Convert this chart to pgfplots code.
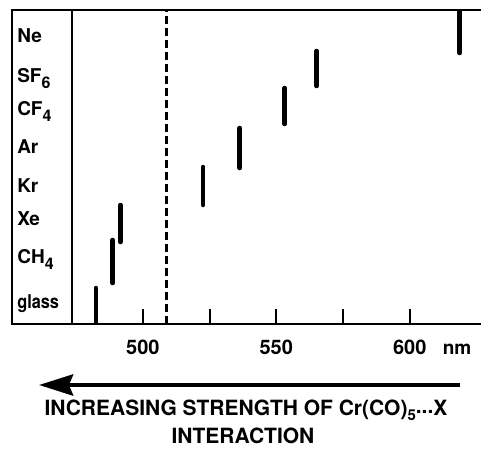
\documentclass[border=0pt]{standalone}
\usepackage{pgfplots}
\pgfplotsset{compat=1.18}
\usepackage{fontspec}
\setmainfont{TeX Gyre Heros}
\usetikzlibrary{arrows.meta}

% lowered, nearly full-size subscripts as in the original lettering
\newcommand{\sub}[1]{\raisebox{-6pt}{\fontsize{16}{16}\selectfont #1}}
\tikzset{
  lbl/.style={anchor=base west, inner sep=0pt, font=\fontsize{19}{22}\selectfont\bfseries},
  band/.style={black, no markers, line width=4.5pt, line cap=round},
}

\begin{document}
\begin{tikzpicture}[x=1pt,y=1pt]
\begin{axis}[
  at={(12pt,132pt)}, anchor=south west,
  scale only axis, width=472pt, height=314pt,
  xmin=451, xmax=627.8, ymin=0, ymax=314,
  axis line style={line width=2.4pt},
  xtick={500,525,550,575,600},
  xticklabels={500,,550,,600},
  xtick pos=bottom, tick align=inside,
  major tick length=15pt,
  xtick style={line width=2pt, black},
  ytick=\empty,
  xticklabel style={anchor=base, yshift=-30pt, font=\fontsize{20}{24}\selectfont\bfseries},
  xlabel={nm},
  xlabel style={at={(axis description cs:0.943,0)}, anchor=base, yshift=-30pt,
    font=\fontsize{19}{24}\selectfont\bfseries},
  /pgf/number format/assume math mode=true,
]
% reference lines
\addplot[black, no markers, line width=2pt] coordinates {(473.6,0) (473.6,314)};
\addplot[black, no markers, line width=2.2pt, dash pattern=on 8pt off 4pt] coordinates {(508.9,0) (508.9,314)};

% band positions (nm) for each matrix
\addplot[band] coordinates {(618.7,314) (618.7,271)}; % Ne
\addplot[band] coordinates {(565.1,273) (565.1,238)}; % SF6
\addplot[band] coordinates {(553.1,236) (553.1,200)}; % CF4
\addplot[band] coordinates {(536.3,196) (536.3,156)}; % Ar
\addplot[band] coordinates {(522.6,157) (522.6,119)}; % Kr
\addplot[band] coordinates {(491.6,119) (491.6,82)};  % Xe
\addplot[band] coordinates {(488.7,84) (488.7,41)};   % CH4
\addplot[band] coordinates {(482.4,36) (482.4,0)};    % glass

\node[lbl] at (axis cs:452.9,281) {Ne};
\node[lbl] at (axis cs:452.9,242) {SF\sub{6}};
\node[lbl] at (axis cs:452.9,209) {CF\sub{4}};
\node[lbl] at (axis cs:452.9,171) {Ar};
\node[lbl] at (axis cs:452.9,132) {Kr};
\node[lbl] at (axis cs:452.9,99) {Xe};
\node[lbl] at (axis cs:452.9,61) {CH\sub{4}};
\node[lbl] at (axis cs:452.9,16) {\scalebox{0.86}[1]{glass}};
\end{axis}

\draw[line width=4.5pt, -{Stealth[length=34pt, width=21pt, inset=4pt]}] (460,71) -- (39,71);
\node[anchor=base, font=\fontsize{21}{25}\selectfont\bfseries] at (246,41)
  {INCREASING STRENGTH OF Cr(CO)\raisebox{-5pt}{\fontsize{15}{15}\selectfont 5}\raisebox{2pt}{...}X};
\node[anchor=base, font=\fontsize{21}{25}\selectfont\bfseries] at (243,13) {INTERACTION};

\pgfresetboundingbox
\path[use as bounding box] (0,0) rectangle (481,456);
\end{tikzpicture}
\end{document}
